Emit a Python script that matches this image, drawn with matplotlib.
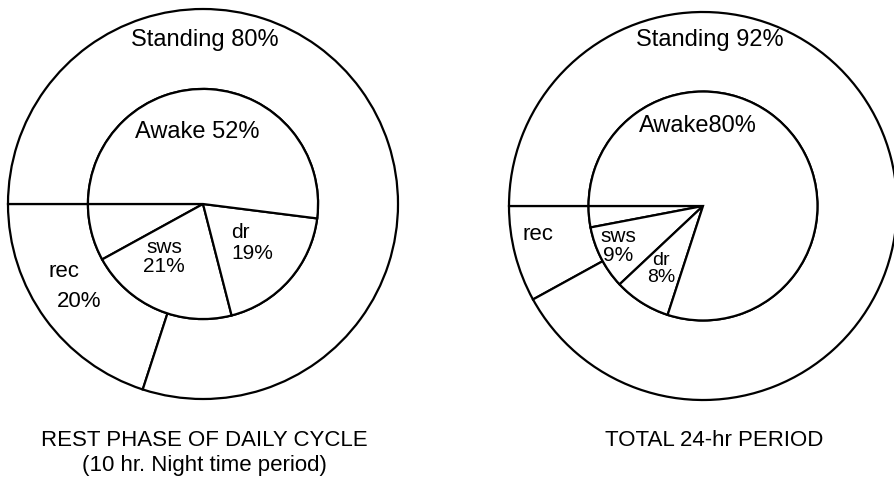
import matplotlib.pyplot as plt

plt.rcParams['font.family'] = ['Liberation Sans', 'DejaVu Sans']

# Rest phase of daily cycle (10 hr night time period)
rest_outer_labels = ['rec', 'Standing']
rest_outer_values = [20, 80]
rest_inner_labels = ['', 'sws', 'dr', 'Awake']   # first slice is the unlabelled remainder
rest_inner_values = [8, 21, 19, 52]

# Total 24-hr period
total_outer_labels = ['rec', 'Standing']
total_outer_values = [8, 92]
total_inner_labels = ['', 'sws', 'dr', 'Awake']
total_inner_values = [3, 9, 8, 80]

W, H = 894, 491
INNER_R = 0.59
PAD = 1.03


def pie_axes(fig, cx, cy, R):
    # square axes centred on (cx, cy) in pixel coords (top origin), pie radius R px
    half = R * PAD
    ax = fig.add_axes([(cx - half) / W, (H - cy - half) / H, 2 * half / W, 2 * half / H])
    return ax


def draw_rings(ax, outer_values, inner_values):
    wp = dict(edgecolor='black', linewidth=1.6)
    ax.pie(outer_values, radius=1.0, startangle=180, counterclock=True,
           colors=['white'] * len(outer_values),
           wedgeprops=dict(width=1.0 - INNER_R, **wp))
    ax.pie(inner_values, radius=INNER_R, startangle=180, counterclock=True,
           colors=['white'] * len(inner_values), wedgeprops=wp)
    ax.set_xlim(-PAD, PAD)
    ax.set_ylim(-PAD, PAD)
    ax.set_aspect('equal')
    ax.axis('off')


fig = plt.figure(figsize=(W / 100, H / 100), dpi=100)

# left diagram
ax1 = pie_axes(fig, 203, 204, 195)
draw_rings(ax1, rest_outer_values, rest_inner_values)
ax1.text(0.01, 0.84, f"Standing {rest_outer_values[1]}%", fontsize=17, ha='center', va='center')
ax1.text(-0.03, 0.37, f"Awake {rest_inner_values[3]}%", fontsize=17, ha='center', va='center')
ax1.text(-0.20, -0.27, f"sws\n{rest_inner_values[1]}%", fontsize=15, ha='center', va='center',
         linespacing=1.0)
ax1.text(0.145, -0.20, f"dr\n{rest_inner_values[2]}%", fontsize=15, ha='left', va='center',
         linespacing=1.1)
ax1.text(-0.715, -0.345, "rec", fontsize=16, ha='center', va='center')
ax1.text(-0.635, -0.50, f"{rest_outer_values[0]}%", fontsize=16, ha='center', va='center')

# right diagram
ax2 = pie_axes(fig, 703, 206, 194)
draw_rings(ax2, total_outer_values, total_inner_values)
ax2.text(0.036, 0.855, f"Standing {total_outer_values[1]}%", fontsize=17, ha='center', va='center')
ax2.text(-0.026, 0.41, f"Awake{total_inner_values[3]}%", fontsize=17, ha='center', va='center')
ax2.text(-0.85, -0.145, "rec", fontsize=16, ha='center', va='center')
ax2.text(-0.435, -0.205, f"sws\n{total_inner_values[1]}%", fontsize=15, ha='center', va='center',
         linespacing=1.0)
ax2.text(-0.215, -0.326, f"dr\n{total_inner_values[2]}%", fontsize=14, ha='center', va='center',
         linespacing=1.0)

# captions
fig.text(204 / W, 1 - 453 / H, "REST PHASE OF DAILY CYCLE\n(10 hr. Night time period)",
         fontsize=16, ha='center', va='center', linespacing=1.25)
fig.text(714 / W, 1 - 440 / H, "TOTAL 24-hr PERIOD", fontsize=16, ha='center', va='center')

fig.savefig('out.png', dpi=100, facecolor='white')
